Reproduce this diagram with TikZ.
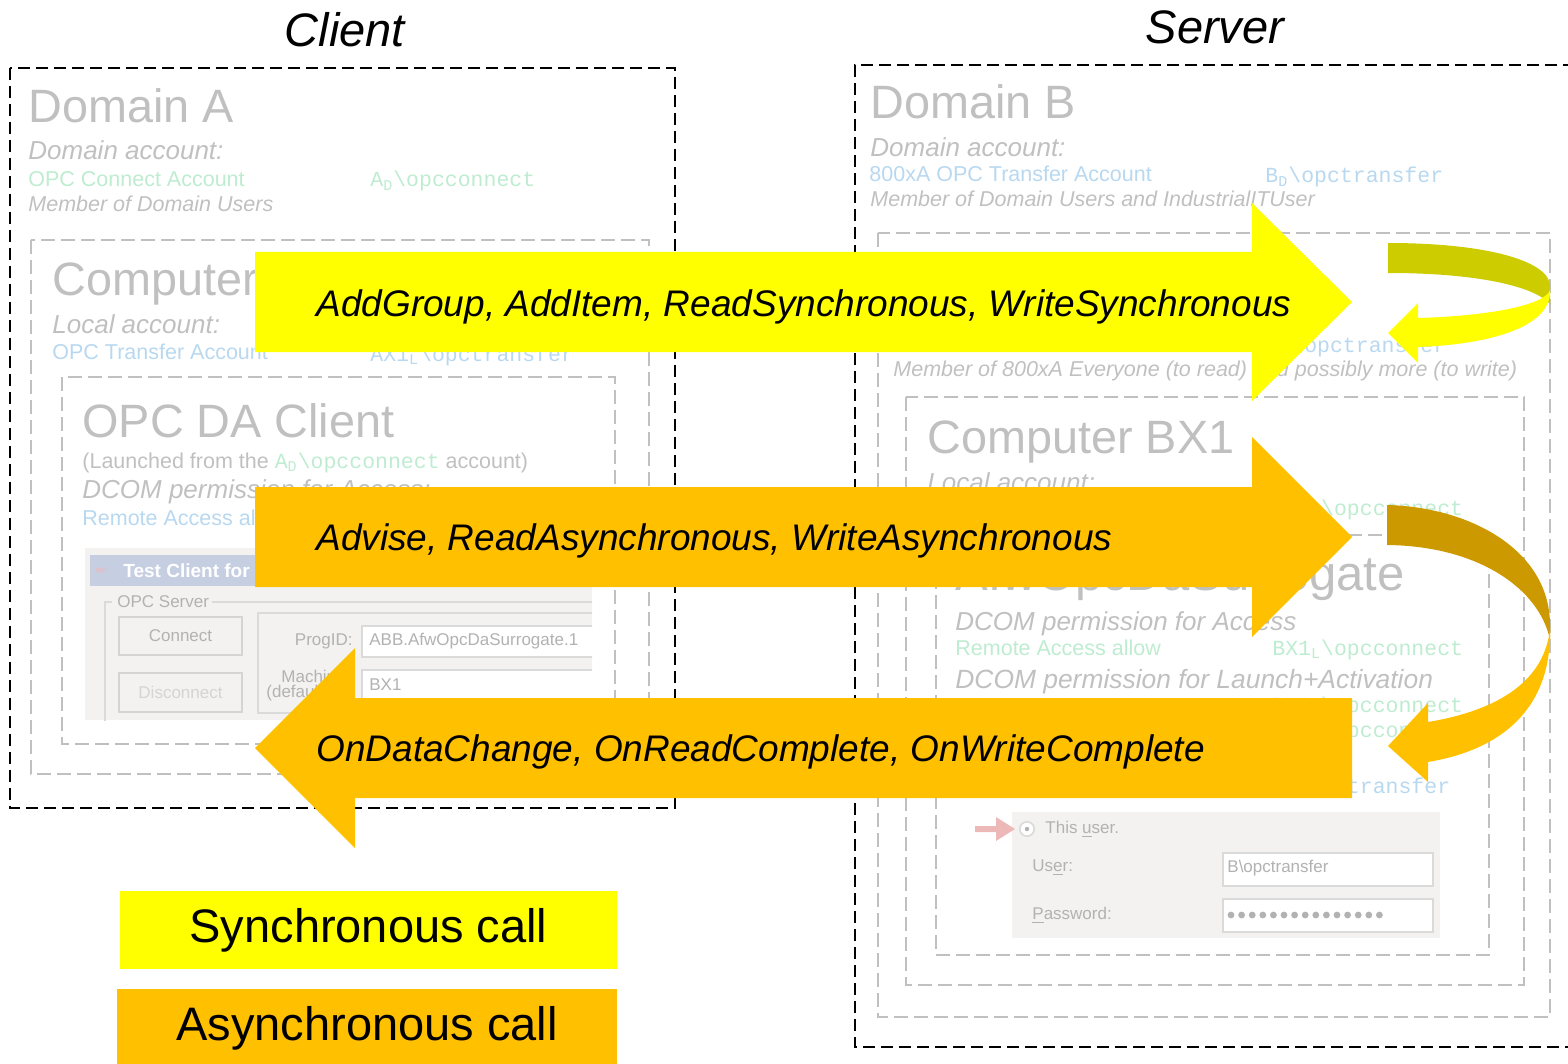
\documentclass[tikz,border=0pt]{standalone}
\usepackage{fontspec}
\setmainfont{Liberation Sans}
\setmonofont{Liberation Mono}

\definecolor{fadegray}{RGB}{192,192,192}
\definecolor{fadegreen}{RGB}{190,236,208}
\definecolor{fadeblue}{RGB}{184,216,240}
\definecolor{syncyellow}{RGB}{255,255,0}
\definecolor{syncdark}{RGB}{204,204,0}
\definecolor{asyncorange}{RGB}{255,192,0}
\definecolor{asyncdark}{RGB}{204,153,0}
\definecolor{winbg}{RGB}{243,242,240}
\definecolor{wintitlebar}{RGB}{198,206,226}
\definecolor{wingray}{RGB}{178,178,178}
\definecolor{winlight}{RGB}{212,212,212}
\definecolor{winedge}{RGB}{218,218,218}
\definecolor{pinkarrow}{RGB}{236,184,184}

\newcommand{\useracct}[3]{\texttt{#1\textsubscript{#2}\textbackslash #3}}

\tikzset{
  outerbox/.style={draw=black, line width=1.1pt, dash pattern=on 6pt off 3pt},
  innerbox/.style={draw=fadegray, line width=1pt, dash pattern=on 7pt off 3pt},
  sidetitle/.style={anchor=base, inner sep=0pt, font=\fontsize{23.5}{28}\selectfont\itshape},
  heading/.style={anchor=base west, inner sep=0pt, text=fadegray, font=\fontsize{23.4}{27}\selectfont},
  acctlabel/.style={anchor=base west, inner sep=0pt, text=fadegray, font=\fontsize{13}{16}\selectfont\itshape},
  smalltext/.style={anchor=base west, inner sep=0pt, font=\fontsize{10.75}{13}\selectfont},
  membertext/.style={smalltext, text=fadegray, font=\fontsize{10.75}{13}\selectfont\itshape},
  calltext/.style={anchor=base west, inner sep=0pt, font=\fontsize{18.5}{22}\selectfont\itshape},
  legendbox/.style={inner sep=0pt, minimum height=39pt, font=\fontsize{23.5}{28}\selectfont},
  wintext/.style={inner sep=0pt, text=wingray, font=\fontsize{8.5}{10}\selectfont},
  winline/.style={draw=winedge, line width=0.6pt},
  winbtn/.style={draw=winlight, line width=1pt, fill=winbg},
  winfield/.style={draw=winedge, line width=1pt, fill=white},
}

\begin{document}
\begin{tikzpicture}[x=0.5pt, y=-0.5pt]
  \useasboundingbox (0,0) rectangle (1568,1064);

  \node[sidetitle] (client) at (345,47) {Client};
  \node[sidetitle] (server) at (1215,44) {Server};

  % client side
  \draw[outerbox] (10,68) rectangle (675,808);
  \draw[innerbox] (31,240) rectangle (649,774);
  \draw[innerbox] (62,377) rectangle (615,744);

  \node[heading] (domA) at (28,123) {Domain A};
  \node[acctlabel] (domAacct) at (28,160) {Domain account:};
  \node[smalltext, text=fadegreen] (domAname) at (28,187) {OPC Connect Account};
  \node[smalltext, text=fadegreen] (domAuser) at (370,187) {\useracct{A}{D}{opcconnect}};
  \node[membertext] (domAgroup) at (28,212) {Member of Domain Users};

  \node[heading] (compA) at (52,295) {Computer AX1};
  \node[acctlabel] (compAacct) at (52,333) {Local account:};
  \node[smalltext, text=fadeblue] (compAname) at (52,359) {OPC Transfer Account};
  \node[smalltext, text=fadeblue] (compAuser) at (370,361) {\useracct{AX1}{L}{opctransfer}};

  \node[heading] (daclient) at (82,437) {OPC DA Client};
  \node[smalltext, text=fadegray] (launched) at (82,468)
    {(Launched from the \textcolor{fadegreen}{\useracct{A}{D}{opcconnect}} account)};
  \node[acctlabel] (daperm) at (82,498) {DCOM permission for Access:};
  \node[smalltext, text=fadeblue] (daremote) at (82,525) {Remote Access allow};

  % client dialog
  \begin{scope}
    \clip (85,548) rectangle (592,720);
    \fill[winbg] (85,548) rectangle (592,720);
    \fill[wintitlebar] (90,555) rectangle (600,586);
    \node[wintext, anchor=west, text=pinkarrow, font=\fontsize{4}{5}\selectfont] (winicon) at (95,571) {opc};
    \node[wintext, anchor=west, text=white, font=\fontsize{9.5}{11}\selectfont\bfseries] (wintitle) at (123,571) {Test Client for};
    \draw[winline] (112,602) -- (105,602) -- (105,725);
    \draw[winline] (212,602) -- (600,602);
    \node[wintext, anchor=west] (opcgroup) at (117,602) {OPC Server};
    \draw[winbtn] (119,617) rectangle (242,655);
    \node[wintext] (connect) at (180.5,636) {Connect};
    \draw[winbtn] (119,673) rectangle (242,712);
    \node[wintext, text=winlight] (disconnect) at (180.5,692) {Disconnect};
    \draw[winline] (258,613) rectangle (600,713);
    \node[wintext, anchor=east] (progid) at (353,641) {ProgID:};
    \draw[winfield] (362,626) rectangle (600,657);
    \node[wintext, anchor=west] (progval) at (369,641) {ABB.AfwOpcDaSurrogate.1};
    \node[wintext, anchor=west] (machine) at (281,676) {Machine};
    \node[wintext, anchor=west] (default) at (266,693) {(default)};
    \draw[winfield] (362,670) rectangle (600,725);
    \node[wintext, anchor=west] (machval) at (369,685) {BX1};
  \end{scope}

  % server side
  \draw[outerbox] (1575,65) -| (855,1047) -- (1575,1047);
  \draw[innerbox] (878,233) rectangle (1550,1017);
  \draw[innerbox] (906,397) rectangle (1524,985);
  \draw[innerbox] (936,535) rectangle (1489,955);

  \node[heading] (domB) at (870,119) {Domain B};
  \node[acctlabel] (domBacct) at (870,157) {Domain account:};
  \node[smalltext, text=fadeblue] (domBname) at (869,182) {800xA OPC Transfer Account};
  \node[smalltext, text=fadeblue] (domBuser) at (1265,183) {\useracct{B}{D}{opctransfer}};
  \node[membertext] (domBgroup) at (870,207) {Member of Domain Users and IndustrialITUser};

  \node[smalltext, text=fadeblue] (sysuser) at (1268,352) {\useracct{B}{D}{opctransfer}};
  \node[membertext] (sysgroup) at (893,376) {Member of 800xA Everyone (to read) and possibly more (to write)};

  \node[heading] (compB) at (927,453) {Computer BX1};
  \node[acctlabel] (compBacct) at (927,491) {Local account:};
  \node[smalltext, text=fadegreen] (compBuser) at (1272,515) {\useracct{BX1}{L}{opcconnect}};

  \node[heading, font=\fontsize{24.5}{29}\selectfont] (surrogate) at (955,590) {AfwOpcDaSurrogate};
  \node[acctlabel] (accessperm) at (955,630) {DCOM permission for Access};
  \node[smalltext, text=fadegreen] (accessallow) at (955,655) {Remote Access allow};
  \node[smalltext, text=fadegreen] (accessuser) at (1272,655) {\useracct{BX1}{L}{opcconnect}};
  \node[acctlabel, font=\fontsize{13.2}{16}\selectfont\itshape] (launchperm) at (955,688) {DCOM permission for Launch+Activation};
  \node[smalltext, text=fadegreen] (launchuser) at (1272,712) {\useracct{BX1}{L}{opcconnect}};
  \node[smalltext, text=fadegreen] (activuser) at (1272,737) {\useracct{BX1}{L}{opcconnect}};
  \node[smalltext, text=fadeblue] (runasuser) at (1272,793) {\useracct{B}{D}{opctransfer}};

  % server dialog
  \fill[winbg] (1012,812) rectangle (1440,938);
  \fill[pinkarrow] (975,826) -- (996,826) -- (996,817) -- (1015,829) -- (996,841) -- (996,832) -- (975,832) -- cycle;
  \draw[draw=winedge, fill=white, line width=0.8pt] (1027,829) circle (3.6pt);
  \fill[wingray] (1027,829) circle (1.1pt);
  \node[wintext, anchor=west] (thisuser) at (1045,829) {This \underline{u}ser.};
  \node[wintext, anchor=west] (userlbl) at (1032,868) {Us\underline{e}r:};
  \node[wintext, anchor=west] (pwlbl) at (1032,915) {\underline{P}assword:};
  \draw[winfield] (1223,853) rectangle (1433,886);
  \node[wintext, anchor=west] (userval) at (1227,868) {B\textbackslash opctransfer};
  \draw[winfield] (1223,899) rectangle (1433,932);
  \foreach \i in {0,...,14}
    \fill[wingray] (1231+\i*10.6,915) circle (1.7pt);

  % calls
  \fill[syncyellow] (255,252) -- (1252,252) -- (1252,203) -- (1352,302) -- (1252,401) -- (1252,352) -- (255,352) -- cycle;
  \node[calltext] (synctext) at (316,316) {AddGroup, AddItem, ReadSynchronous, WriteSynchronous};

  \fill[asyncorange] (255,487) -- (1252,487) -- (1252,437) -- (1352,537) -- (1252,637) -- (1252,587) -- (255,587) -- cycle;
  \node[calltext] (asynctext) at (316,550) {Advise, ReadAsynchronous, WriteAsynchronous};

  \fill[asyncorange] (1352,698) -- (355,698) -- (355,648) -- (255,748) -- (355,848) -- (355,798) -- (1352,798) -- cycle;
  \node[calltext] (callbacktext) at (316,761) {OnDataChange, OnReadComplete, OnWriteComplete};

  % return loops
  \fill[syncdark] (1388,243) .. controls (1490,243) and (1550,262) .. (1550,286)
    -- (1550,304) .. controls (1535,287) and (1480,273) .. (1388,273) -- cycle;
  \fill[syncyellow] (1550,290) .. controls (1552,330) and (1480,345) .. (1418,347)
    -- (1418,363) -- (1388,333) -- (1418,303) -- (1418,318)
    .. controls (1490,316) and (1545,305) .. (1550,290) -- cycle;

  \fill[asyncdark] (1387,505) .. controls (1470,507) and (1550,550) .. (1550,625)
    -- (1550,640) .. controls (1540,590) and (1480,546) .. (1387,545) -- cycle;
  \fill[asyncorange] (1550,628) .. controls (1552,710) and (1500,750) .. (1428,762)
    -- (1428,782) -- (1388,746) -- (1428,703) -- (1428,722)
    .. controls (1500,710) and (1545,680) .. (1550,628) -- cycle;

  % legend
  \node[legendbox, fill=syncyellow, minimum width=248.5pt] (synclegend) at (368.5,930) {Synchronous call};
  \node[legendbox, fill=asyncorange, minimum width=250pt] (asynclegend) at (367,1028) {Asynchronous call};
\end{tikzpicture}
\end{document}
